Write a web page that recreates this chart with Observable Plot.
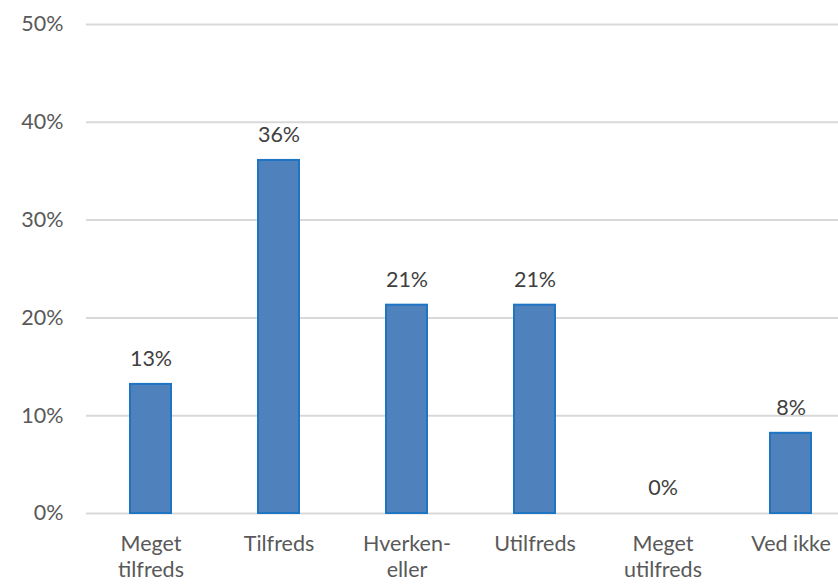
<!DOCTYPE html>
<html><head><meta charset="utf-8">
<script src="https://cdn.jsdelivr.net/npm/d3@7"></script>
<script src="https://cdn.jsdelivr.net/npm/@observablehq/plot@0.6"></script>
<style>
html,body{margin:0;padding:0;background:#fff;overflow:hidden;}
#chart{width:838px;height:584px;overflow:hidden;}
#chart svg{max-width:none !important;}
</style></head>
<body><div id="chart"></div>
<script>
const categories = ["Meget\ntilfreds", "Tilfreds", "Hverken-\neller", "Utilfreds", "Meget\nutilfreds", "Ved ikke"];
const values = [13.2, 36.1, 21.3, 21.3, 0, 8.2];
const yTicks = [0, 10, 20, 30, 40, 50];

const data = categories.map((c, i) => ({cat: c, v: values[i]}));

const chart = Plot.plot({
  width: 854, height: 584,
  marginLeft: 86, marginRight: 0, marginTop: 24, marginBottom: 71,
  style: {fontFamily: "Lato, 'Open Sans', sans-serif", fontSize: "22px", background: "#fff", maxWidth: "none"},
  x: {domain: categories, paddingInner: 0.68, paddingOuter: 0.34, label: null},
  y: {domain: [0, 50], label: null},
  marks: [
    Plot.gridY(yTicks, {stroke: "#d9d9d9", strokeOpacity: 1, strokeWidth: 2}),
    Plot.axisY(yTicks, {tickSize: 0, tickPadding: 23, tickFormat: d => d + "%", fill: "#595959", label: null, fontSize: 21.5}),
    Plot.axisX({tickSize: 0, tickPadding: 19, fill: "#595959", label: null, fontSize: 21.5, lineHeight: 1.2}),
    Plot.barY(data.filter(d => d.v > 0), {x: "cat", y: "v", fill: "#4F81BD", stroke: "#1F74C4", strokeWidth: 2}),
    Plot.text(data, {x: "cat", y: "v", text: d => Math.round(d.v) + "%", dy: -25, fill: "#404040", fontSize: 21.5})
  ]
});
document.getElementById("chart").appendChild(chart);
</script>
</body></html>
